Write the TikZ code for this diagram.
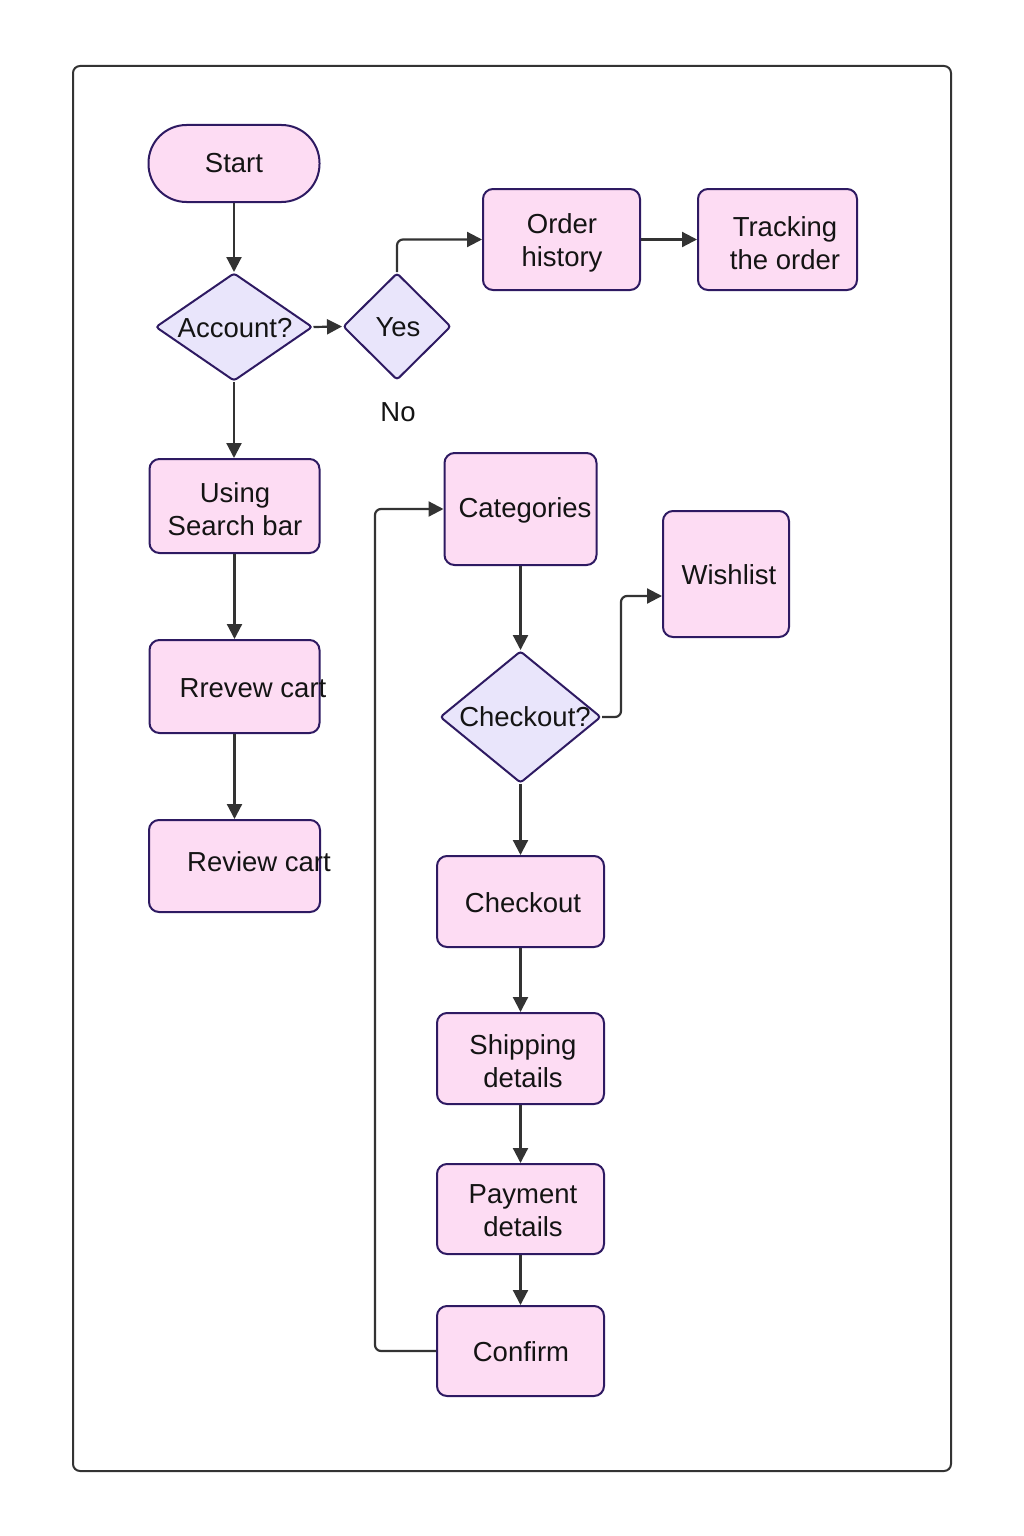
\documentclass[tikz,border=0pt]{standalone}
\usepackage{fontspec}
\setmainfont{Liberation Sans}
\usetikzlibrary{shapes.geometric,arrows.meta,calc}
\definecolor{boxfill}{HTML}{FDDCF3}
\definecolor{dfill}{HTML}{E9E5FB}
\definecolor{bord}{HTML}{2E1A62}
\definecolor{lin}{HTML}{333333}
\tikzset{
  boxnode/.style={draw=bord, fill=boxfill, line width=2pt, rounded corners=10pt, inner sep=0pt},
  startnode/.style={draw=bord, fill=boxfill, line width=2pt, rounded corners=38pt, inner sep=0pt, minimum width=171pt, minimum height=77pt},
  decnode/.style={draw=bord, fill=dfill, line width=2pt, diamond, inner sep=0pt, rounded corners=3pt},
  txt/.style={font=\fontsize{27.5pt}{33pt}\selectfont, text=black!92, align=center, inner sep=0pt},
  arr/.style={draw=lin, line width=2.2pt, -{Triangle[length=15pt,width=15pt]}, rounded corners=6pt},
}
\begin{document}
\begin{tikzpicture}[x=1pt,y=-1pt]
\useasboundingbox (0,0) rectangle (1024,1536);
\draw[draw=lin, line width=2pt, rounded corners=7pt] (73,66) rectangle (951,1471);

% nodes
\node[startnode] (start) at (234,163.5) {};
\node[txt] (tstart) at (234,163) {Start};
\node[decnode, minimum width=157pt, minimum height=108pt] (acc) at (234,327) {};
\node[txt] (tacc) at (235,328) {Account?};
\node[decnode, minimum width=108pt, minimum height=107pt] (yes) at (397,326.5) {};
\node[txt] (tyes) at (398,327) {Yes};
\node[txt] (no) at (398,412) {No};
\node[boxnode, minimum width=157pt, minimum height=101pt] (oh) at (561.5,239.5) {};
\node[txt] (toh) at (562,243) {Order\\history};
\node[boxnode, minimum width=159pt, minimum height=101pt] (tr) at (777.5,239.5) {};
\node[txt] (ttr) at (785,243) {Tracking\\the order};
\node[boxnode, minimum width=170pt, minimum height=94pt] (usb) at (234.5,506) {};
\node[txt] (tusb) at (235,509) {Using\\Search bar};
\node[boxnode, minimum width=170pt, minimum height=93pt] (rr) at (234.5,686.5) {};
\node[txt] (trr) at (253,688) {Rrevew cart};
\node[boxnode, minimum width=171pt, minimum height=92pt] (rc) at (234.5,866) {};
\node[txt] (trc) at (259,862) {Review cart};
\node[boxnode, minimum width=152pt, minimum height=112pt] (cat) at (520.5,509) {};
\node[txt] (tcat) at (525,510) {Categories};
\node[boxnode, minimum width=126pt, minimum height=126pt] (wl) at (726,574) {};
\node[txt] (twl) at (729,575) {Wishlist};
\node[decnode, minimum width=161pt, minimum height=132pt] (chq) at (520.5,717) {};
\node[txt] (tchq) at (525,717) {Checkout?};
\node[boxnode, minimum width=167pt, minimum height=91pt] (co) at (520.5,901.5) {};
\node[txt] (tco) at (523,903) {Checkout};
\node[boxnode, minimum width=167pt, minimum height=91pt] (sd) at (520.5,1058.5) {};
\node[txt] (tsd) at (523,1061) {Shipping\\details};
\node[boxnode, minimum width=167pt, minimum height=90pt] (pd) at (520.5,1209) {};
\node[txt] (tpd) at (523,1211) {Payment\\details};
\node[boxnode, minimum width=167pt, minimum height=90pt] (cf) at (520.5,1351) {};
\node[txt] (tcf) at (521,1352) {Confirm};

% connectors
\draw[arr] (start.south) -- (acc.north);
\draw[arr] (acc.east) -- (yes.west);
\draw[arr] (yes.north) |- (oh.west);
\draw[arr] (oh.east) -- (tr.west);
\draw[arr] (acc.south) -- (acc.south |- usb.north);
\draw[arr] (usb.south) -- (rr.north);
\draw[arr] (rr.south) -- (rc.north);
\draw[arr] (cat.south) -- (chq.north);
\draw[arr] (chq.east) -- ++(19,0) |- ([yshift=-22pt]wl.west);
\draw[arr] (chq.south) -- (co.north);
\draw[arr] (co.south) -- (sd.north);
\draw[arr] (sd.south) -- (pd.north);
\draw[arr] (pd.south) -- (cf.north);
\draw[arr] (cf.west) -- ++(-61,0) |- (cat.west);
\end{tikzpicture}
\end{document}
